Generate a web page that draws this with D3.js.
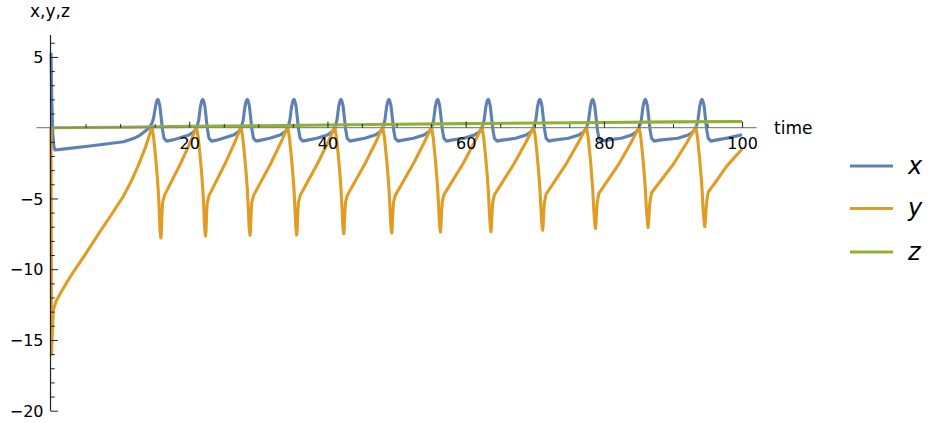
<!DOCTYPE html>
<html>
<head>
<meta charset="utf-8">
<script src="https://cdn.jsdelivr.net/npm/d3@7"></script>
<style>
  html, body { margin: 0; padding: 0; background: #fff; }
  svg { display: block; }
  text { font-family: "DejaVu Sans", sans-serif; fill: #000; }
</style>
</head>
<body>
<svg id="chart" width="929" height="423"></svg>
<script>
// ---- data (time, value) ----
const seriesNames = ["x", "y", "z"];
const seriesColors = ["#5E81B5", "#E19C24", "#8FB131"];

const xData = [
  [0,5.3],[0.1,2.2],[0.25,-0.4],[0.42,-1.35],[0.58,-1.58],[2.0,-1.5],[5.64,-1.29],[8.5,-1.12],[10.5,-0.99],[12.0,-0.75],[12.9,-0.52],[13.7,-0.22],[14.2,0.0],[14.6,0.3],[14.85,0.7],[15.1,1.45],[15.3,1.9],[15.45,2.0],
  [15.57,1.9],[15.75,1.55],[15.93,0.75],[16.13,-0.15],[16.35,-0.75],[16.75,-0.95],[17.45,-0.88],
  [18.46,-0.75],[19.96,-0.52],[20.56,-0.33],[20.91,-0.15],[21.16,0.15],[21.38,0.55],[21.61,1.45],[21.81,1.9],[21.96,2.0],[22.08,1.9],[22.26,1.55],[22.44,0.75],[22.64,-0.15],[22.86,-0.75],[23.26,-0.95],[23.96,-0.88],
  [24.9,-0.75],[26.4,-0.52],[27.0,-0.33],[27.35,-0.15],[27.6,0.15],[27.82,0.55],[28.05,1.45],[28.25,1.9],[28.4,2.0],[28.52,1.9],[28.7,1.55],[28.88,0.75],[29.08,-0.15],[29.3,-0.75],[29.7,-0.95],[30.4,-0.88],
  [31.65,-0.75],[33.15,-0.52],[33.75,-0.33],[34.1,-0.15],[34.35,0.15],[34.57,0.55],[34.8,1.45],[35.0,1.9],[35.15,2.0],[35.27,1.9],[35.45,1.55],[35.63,0.75],[35.83,-0.15],[36.05,-0.75],[36.45,-0.95],[37.15,-0.88],
  [38.46,-0.75],[39.96,-0.52],[40.56,-0.33],[40.91,-0.15],[41.16,0.15],[41.38,0.55],[41.61,1.45],[41.81,1.9],[41.96,2.0],[42.08,1.9],[42.26,1.55],[42.44,0.75],[42.64,-0.15],[42.86,-0.75],[43.26,-0.95],[43.96,-0.88],
  [45.4,-0.75],[46.9,-0.52],[47.5,-0.33],[47.85,-0.15],[48.1,0.15],[48.32,0.55],[48.55,1.45],[48.75,1.9],[48.9,2.0],[49.02,1.9],[49.2,1.55],[49.38,0.75],[49.58,-0.15],[49.8,-0.75],[50.2,-0.95],[50.9,-0.88],
  [52.45,-0.75],[53.95,-0.52],[54.55,-0.33],[54.9,-0.15],[55.15,0.15],[55.37,0.55],[55.6,1.45],[55.8,1.9],[55.95,2.0],[56.07,1.9],[56.25,1.55],[56.43,0.75],[56.63,-0.15],[56.85,-0.75],[57.25,-0.95],[57.95,-0.88],
  [59.76,-0.75],[61.26,-0.52],[61.86,-0.33],[62.21,-0.15],[62.46,0.15],[62.68,0.55],[62.91,1.45],[63.11,1.9],[63.26,2.0],[63.38,1.9],[63.56,1.55],[63.74,0.75],[63.94,-0.15],[64.16,-0.75],[64.56,-0.95],[65.26,-0.88],
  [67.24,-0.75],[68.74,-0.52],[69.34,-0.33],[69.69,-0.15],[69.94,0.15],[70.16,0.55],[70.39,1.45],[70.59,1.9],[70.74,2.0],[70.86,1.9],[71.04,1.55],[71.22,0.75],[71.42,-0.15],[71.64,-0.75],[72.04,-0.95],[72.74,-0.88],
  [74.88,-0.75],[76.38,-0.52],[76.98,-0.33],[77.33,-0.15],[77.58,0.15],[77.8,0.55],[78.03,1.45],[78.23,1.9],[78.38,2.0],[78.5,1.9],[78.68,1.55],[78.86,0.75],[79.06,-0.15],[79.28,-0.75],[79.68,-0.95],[80.38,-0.88],
  [82.5,-0.75],[84.0,-0.52],[84.6,-0.33],[84.95,-0.15],[85.2,0.15],[85.42,0.55],[85.65,1.45],[85.85,1.9],[86.0,2.0],[86.12,1.9],[86.3,1.55],[86.48,0.75],[86.68,-0.15],[86.9,-0.75],[87.3,-0.95],[88.0,-0.88],
  [90.7,-0.75],[92.2,-0.52],[92.8,-0.33],[93.15,-0.15],[93.4,0.15],[93.62,0.55],[93.85,1.45],[94.05,1.9],[94.2,2.0],[94.32,1.9],[94.5,1.55],[94.68,0.75],[94.88,-0.15],[95.1,-0.75],[95.5,-0.95],[96.2,-0.88],[98.0,-0.72],[100,-0.5]
];

const yData = [
  [0,0],[0.08,-16.0],[0.2,-14.3],[0.33,-12.9],[0.7,-12.3],[1.3,-11.75],[2.2,-11.0],[3.23,-10.2],[5.17,-8.8],[7.09,-7.35],[8.8,-6.1],[10.46,-4.85],[11.6,-3.8],[12.6,-2.7],[13.7,-1.35],
  [14.6,0.05],[14.85,-0.7],[15.1,-1.9],[15.3,-3.0],[15.5,-4.3],[15.65,-5.7],[15.75,-7.1],[15.83,-7.55],[15.9,-7.8],[15.97,-7.45],[16.05,-6.1],[16.15,-5.3],[16.4,-4.8],[18.73,-2.55],[20.13,-1.05],
  [21.06,0.05],[21.31,-0.7],[21.56,-1.9],[21.76,-3.0],[21.96,-4.3],[22.11,-5.7],[22.21,-6.95],[22.29,-7.4],[22.36,-7.65],[22.43,-7.3],[22.51,-6.1],[22.61,-5.3],[22.86,-4.8],[25.18,-2.55],[26.57,-1.05],
  [27.5,0.05],[27.75,-0.7],[28.0,-1.9],[28.2,-3.0],[28.4,-4.3],[28.55,-5.7],[28.65,-6.9],[28.73,-7.35],[28.8,-7.6],[28.87,-7.25],[28.95,-6.1],[29.05,-5.3],[29.3,-4.8],[31.78,-2.55],[33.26,-1.05],
  [34.25,0.05],[34.5,-0.7],[34.75,-1.9],[34.95,-3.0],[35.15,-4.3],[35.3,-5.7],[35.4,-6.88],[35.48,-7.33],[35.55,-7.58],[35.62,-7.23],[35.7,-6.1],[35.8,-5.3],[36.05,-4.8],[38.56,-2.55],[40.06,-1.05],
  [41.06,0.05],[41.31,-0.7],[41.56,-1.9],[41.76,-3.0],[41.96,-4.3],[42.11,-5.7],[42.21,-6.8],[42.29,-7.25],[42.36,-7.5],[42.43,-7.15],[42.51,-6.1],[42.61,-5.3],[42.86,-4.8],[45.43,-2.55],[46.97,-1.05],
  [48.0,0.05],[48.25,-0.7],[48.5,-1.9],[48.7,-3.0],[48.9,-4.3],[49.05,-5.7],[49.15,-6.75],[49.23,-7.2],[49.3,-7.45],[49.37,-7.1],[49.45,-6.1],[49.55,-5.3],[49.8,-4.8],[52.43,-2.55],[54.0,-1.05],
  [55.05,0.05],[55.3,-0.7],[55.55,-1.9],[55.75,-3.0],[55.95,-4.3],[56.1,-5.7],[56.2,-6.68],[56.28,-7.13],[56.35,-7.38],[56.42,-7.03],[56.5,-6.1],[56.6,-5.3],[56.85,-4.75],[59.61,-2.55],[61.26,-1.05],
  [62.36,0.05],[62.61,-0.7],[62.86,-1.9],[63.06,-3.0],[63.26,-4.3],[63.41,-5.7],[63.51,-6.65],[63.59,-7.1],[63.66,-7.35],[63.73,-7.0],[63.81,-6.1],[63.91,-5.3],[64.16,-4.75],[67.0,-2.55],[68.7,-1.05],
  [69.84,0.05],[70.09,-0.7],[70.34,-1.9],[70.54,-3.0],[70.74,-4.3],[70.89,-5.7],[70.99,-6.55],[71.07,-7.0],[71.14,-7.25],[71.21,-6.9],[71.29,-6.1],[71.39,-5.3],[71.64,-4.7],[74.56,-2.55],[76.31,-1.05],
  [77.48,0.05],[77.73,-0.7],[77.98,-1.9],[78.18,-3.0],[78.38,-4.3],[78.53,-5.7],[78.63,-6.42],[78.71,-6.87],[78.78,-7.12],[78.85,-6.77],[78.93,-6.1],[79.03,-5.3],[79.28,-4.65],[82.19,-2.55],[83.94,-1.05],
  [85.1,0.05],[85.35,-0.7],[85.6,-1.9],[85.8,-3.0],[86.0,-4.3],[86.15,-5.7],[86.25,-6.35],[86.33,-6.8],[86.4,-7.05],[86.47,-6.7],[86.55,-6.1],[86.65,-5.3],[86.9,-4.6],[90.1,-2.55],[92.02,-1.05],
  [93.3,0.05],[93.55,-0.7],[93.8,-1.9],[94.0,-3.0],[94.2,-4.3],[94.35,-5.7],[94.45,-6.3],[94.53,-6.75],[94.6,-7.0],[94.67,-6.65],[94.75,-6.1],[94.85,-5.3],[95.1,-4.55],[96.3,-3.75],[97.8,-2.7],[100,-1.5]
];

const zData = [
  [0,0],[10,0.03],[20,0.09],[30,0.14],[40,0.19],[50,0.24],[60,0.29],[70,0.33],[80,0.37],[90,0.41],[100,0.44]
];

const xMajorTicks = [20, 40, 60, 80, 100];
const xMinorTicks = [5, 10, 15, 25, 30, 35, 45, 50, 55, 65, 70, 75, 85, 90, 95];
const yMajorTicks = [-20, -15, -10, -5, 0, 5];
const yMinorTicks = [-19,-18,-17,-16,-14,-13,-12,-11,-9,-8,-7,-6,-4,-3,-2,-1,1,2,3,4,6];
const xAxisLabel = "time";
const yAxisLabel = "x,y,z";

// ---- drawing ----
const svg = d3.select("#chart");
svg.append("rect").attr("width", 929).attr("height", 423).attr("fill", "#fff");

const xScale = d3.scaleLinear().domain([-2.1, 102.1]).range([36.5, 756.6]);
const yScale = d3.scaleLinear().domain([-20, 6.55]).range([410.7, 35]);

const line = d3.line()
  .x(d => xScale(d[0]))
  .y(d => yScale(d[1]))
  .curve(d3.curveLinear);

const plot = svg.append("g");
[xData, yData, zData].forEach((data, i) => {
  plot.append("path")
    .datum(data)
    .attr("fill", "none")
    .attr("stroke", seriesColors[i])
    .attr("stroke-width", 3.1)
    .attr("stroke-linejoin", "round")
    .attr("stroke-linecap", "butt")
    .attr("d", line);
});

// x axis (ticks pointing up, labels below)
const y0 = yScale(0);
const xAxisG = svg.append("g").attr("transform", `translate(0,${y0})`);
xAxisG.append("line")
  .attr("x1", xScale.range()[0]).attr("x2", xScale.range()[1])
  .attr("stroke", "#888").attr("stroke-width", 1.2);
const xMajor = d3.axisBottom(xScale).tickValues(xMajorTicks).tickSize(-6).tickSizeOuter(0).tickPadding(9.5);
const xMinor = d3.axisBottom(xScale).tickValues(xMinorTicks).tickSize(-3.6).tickSizeOuter(0).tickFormat("");
const gxMinor = svg.append("g").attr("transform", `translate(0,${y0})`).call(xMinor);
const gxMajor = svg.append("g").attr("transform", `translate(0,${y0})`).call(xMajor);
[gxMinor, gxMajor].forEach(g => {
  g.select(".domain").remove();
  g.selectAll(".tick line").attr("stroke", "#222").attr("stroke-width", 1);
});
gxMajor.selectAll(".tick text")
  .style("font-family", "DejaVu Sans").style("font-size", "16px").attr("fill", "#000");

// y axis (ticks pointing right, labels left)
const x0 = xScale(0) - 0.5;
const yAxisG = svg.append("g").attr("transform", `translate(${x0},0)`);
yAxisG.append("line")
  .attr("y1", yScale.range()[0]).attr("y2", yScale.range()[1])
  .attr("stroke", "#222").attr("stroke-width", 1.2);
const yMajor = d3.axisLeft(yScale).tickValues(yMajorTicks).tickSize(-7.5).tickSizeOuter(0).tickPadding(7)
  .tickFormat(d => d === 0 ? "" : (d < 0 ? "\u2212" + Math.abs(d) : String(d)));
const yMinor = d3.axisLeft(yScale).tickValues(yMinorTicks).tickSize(-4.3).tickSizeOuter(0).tickFormat("");
const gyMinor = svg.append("g").attr("transform", `translate(${x0},0)`).call(yMinor);
const gyMajor = svg.append("g").attr("transform", `translate(${x0},0)`).call(yMajor);
[gyMinor, gyMajor].forEach(g => {
  g.select(".domain").remove();
  g.selectAll(".tick line").attr("stroke", "#222").attr("stroke-width", 1);
});
gyMajor.selectAll(".tick").filter(d => d === 0).select("line").remove();
gyMajor.selectAll(".tick text")
  .style("font-family", "DejaVu Sans").style("font-size", "16px").attr("fill", "#000")
  .attr("dy", "0.36em");

// axis labels
svg.append("text").attr("x", 774).attr("y", 134)
  .style("font-size", "17px").text(xAxisLabel);
svg.append("text").attr("x", 30).attr("y", 17)
  .style("font-size", "17px").text(yAxisLabel);

// legend
const legend = svg.append("g");
const legendY = [166, 208.5, 252];
seriesNames.forEach((name, i) => {
  legend.append("line")
    .attr("x1", 850).attr("x2", 893)
    .attr("y1", legendY[i]).attr("y2", legendY[i])
    .attr("stroke", seriesColors[i]).attr("stroke-width", 3);
  legend.append("text")
    .attr("x", 908).attr("y", legendY[i] + 7.5)
    .style("font-size", "24px").style("font-style", "italic")
    .text(name);
});
</script>
</body>
</html>
